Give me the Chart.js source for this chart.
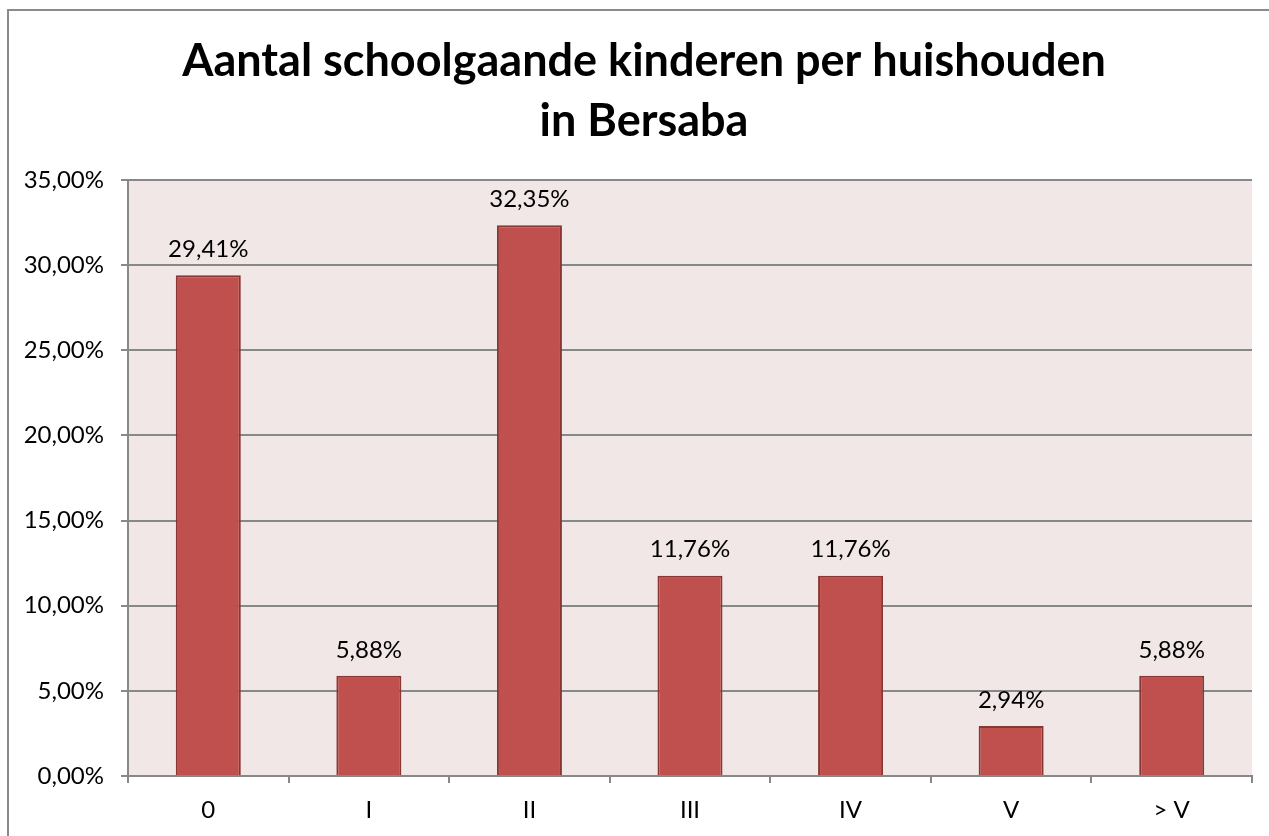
<!DOCTYPE html>
<html>
<head>
<meta charset="utf-8">
<script src="https://cdn.jsdelivr.net/npm/chart.js@4.4.1/dist/chart.umd.min.js"></script>
<style>
  html, body { margin: 0; padding: 0; background: #fff; }
  #wrap { position: relative; width: 1269px; height: 836px; overflow: hidden; }
  #frame { position: absolute; left: 7px; top: 9px; width: 1300px; height: 900px;
           border-left: 2px solid #8a8a8a; border-top: 2px solid #8a8a8a; pointer-events: none; }
  canvas { position: absolute; left: 0; top: 0; }
</style>
</head>
<body>
<div id="wrap">
  <canvas id="chart" width="1269" height="836"></canvas>
  <div id="frame"></div>
</div>
<script>
const categories = ['0', 'I', 'II', 'III', 'IV', 'V', '> V'];
const shares = [29.41, 5.88, 32.35, 11.76, 11.76, 2.94, 5.88];
const yTicks = [0, 5, 10, 15, 20, 25, 30, 35];
const titleLines = ['Aantal schoolgaande kinderen per huishouden', 'in Bersaba'];

const fontFamily = 'Lato, "Open Sans", sans-serif';

function pct(v) {
  return v.toFixed(2).replace('.', ',') + '%';
}

const plotBackground = {
  id: 'plotBackground',
  beforeDraw(chart) {
    const { ctx, chartArea } = chart;
    ctx.save();
    ctx.fillStyle = '#f2e7e7';
    ctx.fillRect(chartArea.left, chartArea.top, chartArea.right - chartArea.left, chartArea.bottom - chartArea.top);
    ctx.restore();
  },
};

// title is drawn by hand so it can sit a bit right of the canvas centre, as in the original
const chartTitle = {
  id: 'chartTitle',
  afterDraw(chart) {
    const { ctx } = chart;
    ctx.save();
    ctx.font = `bold 45px ${fontFamily}`;
    ctx.fillStyle = '#000';
    ctx.textAlign = 'center';
    ctx.textBaseline = 'alphabetic';
    titleLines.forEach((line, i) => ctx.fillText(line, 644, 76 + i * 60));
    ctx.restore();
  },
};

const valueLabels = {
  id: 'valueLabels',
  afterDatasetsDraw(chart) {
    const { ctx } = chart;
    const meta = chart.getDatasetMeta(0);
    ctx.save();
    ctx.font = `24px ${fontFamily}`;
    ctx.fillStyle = '#000';
    ctx.textAlign = 'center';
    ctx.textBaseline = 'middle';
    meta.data.forEach((bar, i) => {
      ctx.fillText(pct(shares[i]), bar.x, bar.y - 26);
    });
    ctx.restore();
  },
};

new Chart(document.getElementById('chart'), {
  type: 'bar',
  data: {
    labels: categories,
    datasets: [
      {
        data: shares,
        backgroundColor: '#c0504d',
        borderColor: '#8a3634',
        borderWidth: 2,
        categoryPercentage: 1,
        barPercentage: 0.405,
      },
    ],
  },
  options: {
    responsive: false,
    animation: false,
    devicePixelRatio: 1,
    layout: { padding: { top: 180, left: 0, right: 17, bottom: 0 } },
    plugins: {
      legend: { display: false },
      tooltip: { enabled: false },
      title: { display: false },
    },
    scales: {
      x: {
        grid: { display: true, drawOnChartArea: false, offset: true, color: '#888', lineWidth: 2, tickLength: 7 },
        border: { color: '#888', width: 2 },
        ticks: { color: '#000', font: { family: fontFamily, size: 24 }, padding: 13 },
        afterFit(scale) { scale.height = 60; },
      },
      y: {
        min: 0,
        max: 35,
        afterBuildTicks(scale) { scale.ticks = yTicks.map((v) => ({ value: v })); },
        grid: { color: '#888', lineWidth: 2, tickLength: 7 },
        border: { color: '#888', width: 2 },
        ticks: { color: '#000', font: { family: fontFamily, size: 24 }, padding: 17, callback: (v) => pct(v) },
        afterFit(scale) { scale.width = 128; },
      },
    },
  },
  plugins: [plotBackground, valueLabels, chartTitle],
});
</script>
</body>
</html>
